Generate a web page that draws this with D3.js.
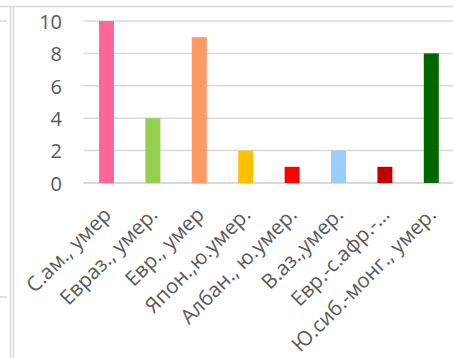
<!DOCTYPE html>
<html>
<head>
<meta charset="utf-8">
<script src="https://cdn.jsdelivr.net/npm/d3@7"></script>
<style>
  html, body { margin: 0; padding: 0; background: #fff; }
  svg { display: block; }
</style>
</head>
<body>
<svg id="chart" width="453" height="358"></svg>
<script>
// Population groups and counts
const categories = [
  "С.ам., умер",
  "Евраз., умер.",
  "Евр., умер",
  "Япон.,ю.умер.",
  "Албан., ю.умер.",
  "В.аз.,умер.",
  "Евр.-с.афр.-…",
  "Ю.сиб.-монг., умер."
];
const values = [10, 4, 9, 2, 1, 2, 1, 8];
const barColors = ["#FF6699", "#92D050", "#FF9966", "#FFC000", "#FF0000", "#99CCFF", "#C00000", "#006600"];
const yTicks = [0, 2, 4, 6, 8, 10];

const svg = d3.select("#chart");
const W = 453, H = 358;

// sheet-like frame lines on the left and top
const frame = svg.append("g").attr("stroke", "#d9d9d9").attr("fill", "none");
frame.append("line").attr("x1", 0).attr("x2", W).attr("y1", 6.5).attr("y2", 6.5).attr("stroke-width", 1.5);
frame.append("line").attr("x1", 10.5).attr("x2", 10.5).attr("y1", 6).attr("y2", H).attr("stroke-width", 1.5);
frame.append("line").attr("x1", 13.5).attr("x2", 13.5).attr("y1", 6).attr("y2", H).attr("stroke-width", 1.5);
frame.append("line").attr("x1", 0).attr("x2", 7).attr("y1", 21).attr("y2", 21).attr("stroke-width", 1.5);
frame.append("line").attr("x1", 0).attr("x2", 7).attr("y1", 297).attr("y2", 297).attr("stroke-width", 1.5);

const x = d3.scaleBand()
  .domain(categories)
  .range([83.3, 454.5])
  .paddingInner(0.677)
  .paddingOuter(0.3385);

const y = d3.scaleLinear().domain([0, 10]).range([183, 21]);

// gridlines
svg.append("g")
  .selectAll("line")
  .data(yTicks)
  .join("line")
  .attr("x1", 83.3)
  .attr("x2", W)
  .attr("y1", d => y(d))
  .attr("y2", d => y(d))
  .attr("stroke", "#d9d9d9")
  .attr("stroke-width", d => d === 0 ? 2 : 1.5);

// y axis labels
const yAxis = d3.axisLeft(y).tickValues(yTicks).tickSize(0).tickPadding(0);
svg.append("g")
  .attr("transform", "translate(62,0)")
  .call(yAxis)
  .call(g => g.select(".domain").remove())
  .call(g => g.selectAll("text")
    .attr("fill", "#595959")
    .attr("font-family", "'Open Sans', sans-serif")
    .attr("font-size", 20)
    .attr("dy", "0.36em"));

// bars
svg.append("g")
  .selectAll("rect")
  .data(values)
  .join("rect")
  .attr("x", (d, i) => x(categories[i]))
  .attr("width", x.bandwidth())
  .attr("y", d => y(d))
  .attr("height", d => y(0) - y(d))
  .attr("fill", (d, i) => barColors[i]);

// rotated category labels
const xAxis = d3.axisBottom(x).tickSize(0).tickPadding(0);
svg.append("g")
  .attr("transform", "translate(0,183)")
  .call(xAxis)
  .call(g => g.select(".domain").remove())
  .call(g => g.selectAll("text")
    .attr("fill", "#595959")
    .attr("font-family", "'Open Sans', sans-serif")
    .attr("font-size", 20.5)
    .attr("text-anchor", "end")
    .attr("dy", null)
    .attr("y", 0)
    .attr("transform", "translate(6,33) rotate(-45)"));
</script>
</body>
</html>
